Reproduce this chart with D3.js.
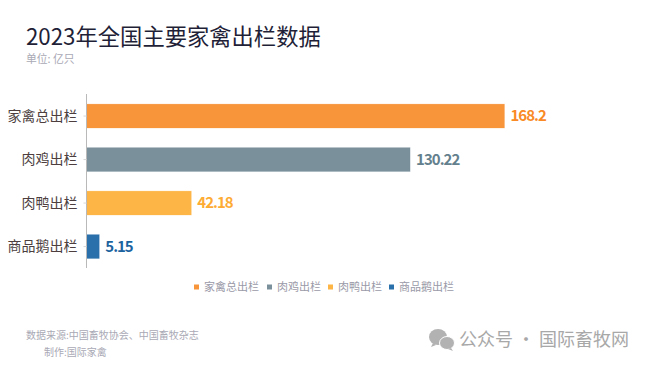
<!DOCTYPE html>
<html>
<head>
<meta charset="utf-8">
<script src="https://cdn.jsdelivr.net/npm/d3@7"></script>
<style>
  html, body { margin: 0; padding: 0; background: #fff; }
  svg { display: block; }
  text { font-family: "Noto Sans CJK SC", "Noto Sans", sans-serif; }
  .domain { stroke: #b9b9b9; }
  .tick line { stroke: #d8d8d8; }
</style>
</head>
<body>
<div id="chart"></div>
<script>
const categories = ["家禽总出栏", "肉鸡出栏", "肉鸭出栏", "商品鹅出栏"];
const values = [168.2, 130.22, 42.18, 5.15];
const barColors = ["#f8953a", "#7a909b", "#fdb646", "#2a70aa"];
const labelColors = ["#f98a26", "#647f8d", "#fdab33", "#1c649f"];

const svgWidth = 650;
const svgHeight = 366;

const svg = d3.select("#chart")
  .append("svg")
  .attr("width", svgWidth)
  .attr("height", svgHeight);

const x = d3.scaleLinear().domain([0, 168.2]).range([86.5, 504.5]);
const y = d3.scaleBand().domain(categories).range([94.3, 268.3]).paddingInner(0.45).paddingOuter(0.225);

// Title block
svg.append("text").attr("x", 26).attr("y", 45)
  .attr("font-size", 22.3).attr("fill", "#1f1f38")
  .text("2023年全国主要家禽出栏数据");

svg.append("text").attr("x", 26).attr("y", 62.5)
  .attr("font-size", 10.8).attr("fill", "#a9a9b5")
  .text("单位: 亿只");

// Bars
svg.selectAll("rect.bar")
  .data(categories)
  .join("rect")
  .attr("class", "bar")
  .attr("x", x(0))
  .attr("y", d => y(d))
  .attr("width", (d, i) => x(values[i]) - x(0))
  .attr("height", y.bandwidth())
  .attr("fill", (d, i) => barColors[i])
  .attr("stroke", (d, i) => barColors[i])
  .attr("stroke-opacity", 0.2);

// Value labels
svg.selectAll("text.value")
  .data(categories)
  .join("text")
  .attr("class", "value")
  .attr("x", (d, i) => x(values[i]) + 6)
  .attr("y", d => y(d) + y.bandwidth() / 2)
  .attr("dy", "0.36em")
  .attr("font-size", 15)
  .attr("font-weight", 700)
  .attr("letter-spacing", -1)
  .attr("fill", (d, i) => labelColors[i])
  .text((d, i) => values[i]);

// Category axis
const yAxis = svg.append("g")
  .attr("transform", `translate(${x(0)},0)`)
  .call(d3.axisLeft(y).tickSize(3).tickPadding(6));
yAxis.selectAll("text").attr("font-size", 14).attr("fill", "#4d3f3f");
yAxis.select(".domain").attr("d", "M0,94V268");

// Legend
const legendX = [194, 267, 328, 389];
const legendItems = svg.append("g").selectAll("g")
  .data(categories)
  .join("g")
  .attr("transform", (d, i) => `translate(${legendX[i]},287)`);
legendItems.append("rect")
  .attr("y", -2.5).attr("width", 5).attr("height", 5)
  .attr("fill", (d, i) => barColors[i]);
legendItems.append("text")
  .attr("x", 10).attr("dy", "0.36em")
  .attr("font-size", 11).attr("fill", "#9a9aa8")
  .text(d => d);

// Source notes
svg.append("text").attr("x", 26).attr("y", 339)
  .attr("font-size", 10).attr("fill", "#a9a9b5")
  .text("数据来源:中国畜牧协会、中国畜牧杂志");
svg.append("text").attr("x", 44).attr("y", 356)
  .attr("font-size", 10).attr("fill", "#a9a9b5")
  .text("制作:国际家禽");

// Watermark
const wm = svg.append("g").attr("fill", "#b2b2b2");
wm.append("ellipse").attr("cx", 438).attr("cy", 337).attr("rx", 9).attr("ry", 8);
wm.append("path").attr("d", "M433,343l-2,4l5,-2z");
wm.append("ellipse").attr("cx", 447).attr("cy", 343).attr("rx", 7.5).attr("ry", 6.5)
  .attr("stroke", "#fff").attr("stroke-width", 1);
wm.append("path").attr("d", "M451,348l2,3l-5,-2z");
svg.append("text").attr("x", 459).attr("y", 346)
  .attr("font-size", 18).attr("fill", "#a8a8a8")
  .text("公众号 · 国际畜牧网");
</script>
</body>
</html>
